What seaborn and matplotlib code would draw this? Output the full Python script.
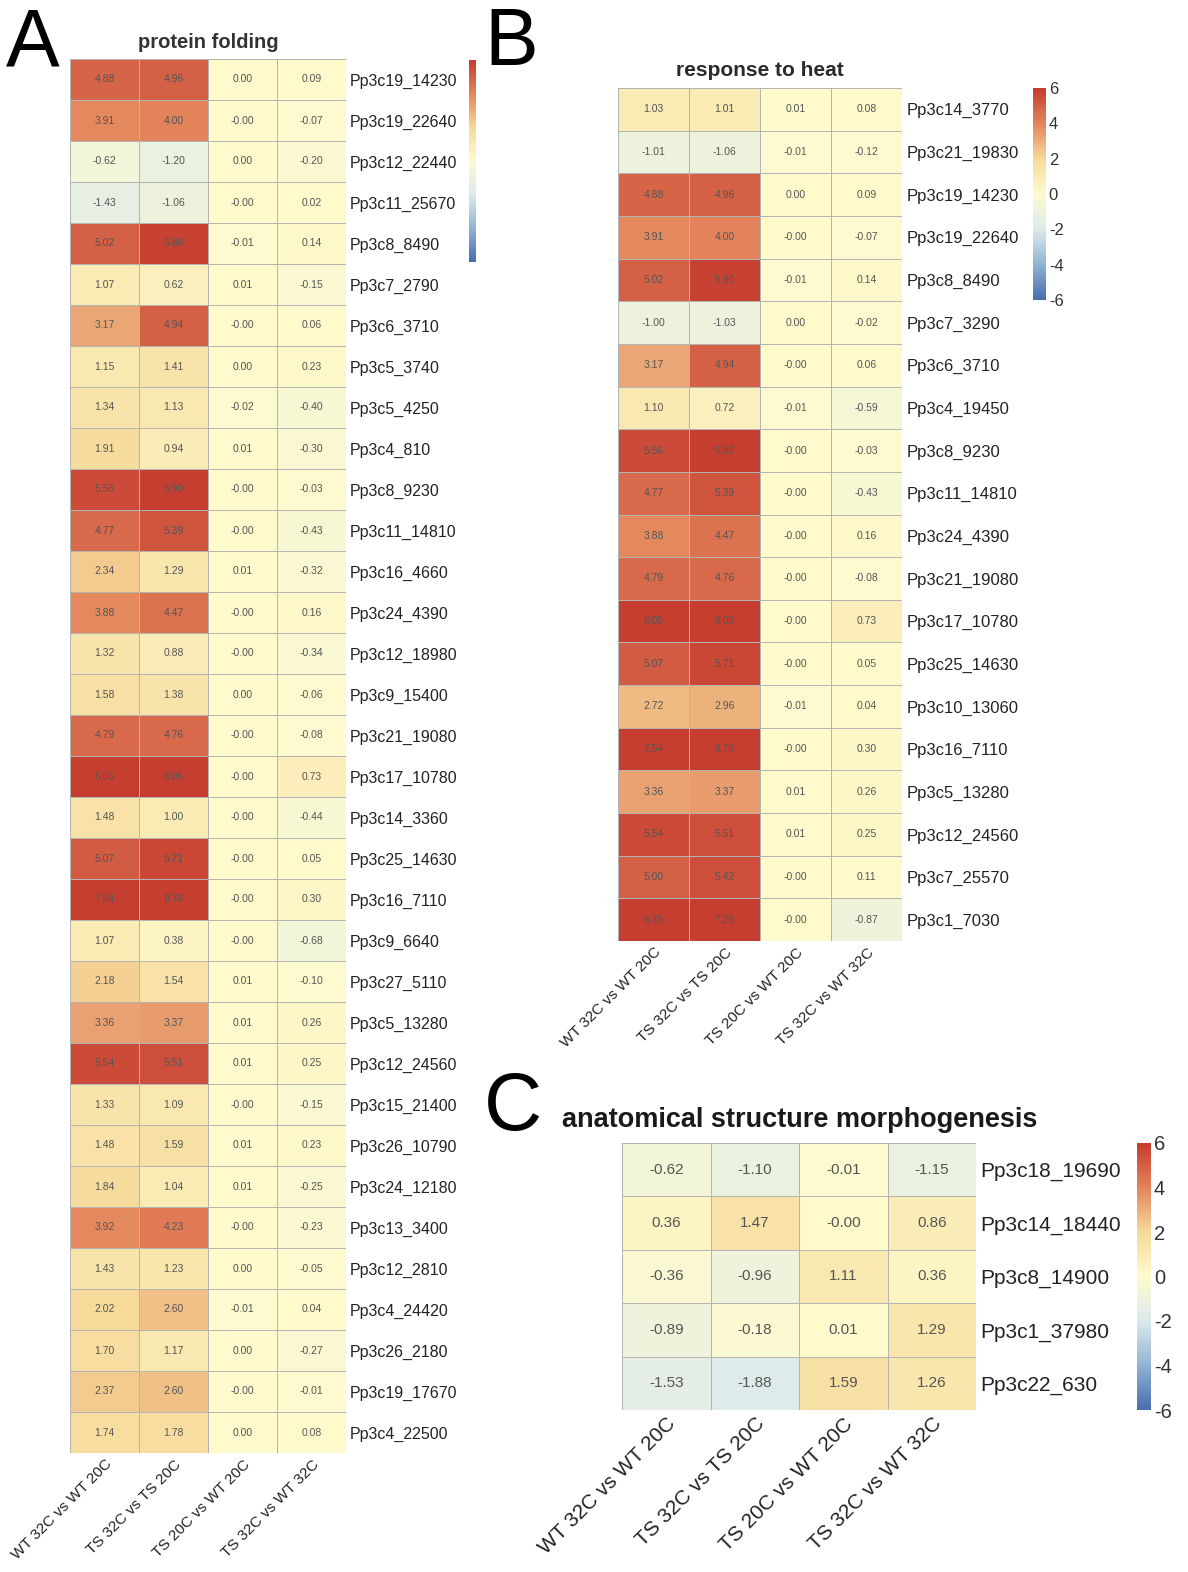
import numpy as np
import pandas as pd
import matplotlib
matplotlib.use("Agg")
import matplotlib.pyplot as plt
import seaborn as sns
from matplotlib.colors import LinearSegmentedColormap

sns.set_theme(style="white")
plt.rcParams['font.family'] = ['Liberation Sans', 'DejaVu Sans']
plt.rcParams['axes.unicode_minus'] = False

contrasts = ["WT 32C vs WT 20C", "TS 32C vs TS 20C", "TS 20C vs WT 20C", "TS 32C vs WT 32C"]

# ---- A: protein folding ----
folding_genes = [
    "Pp3c19_14230", "Pp3c19_22640", "Pp3c12_22440", "Pp3c11_25670", "Pp3c8_8490",
    "Pp3c7_2790", "Pp3c6_3710", "Pp3c5_3740", "Pp3c5_4250", "Pp3c4_810",
    "Pp3c8_9230", "Pp3c11_14810", "Pp3c16_4660", "Pp3c24_4390", "Pp3c12_18980",
    "Pp3c9_15400", "Pp3c21_19080", "Pp3c17_10780", "Pp3c14_3360", "Pp3c25_14630",
    "Pp3c16_7110", "Pp3c9_6640", "Pp3c27_5110", "Pp3c5_13280", "Pp3c12_24560",
    "Pp3c15_21400", "Pp3c26_10790", "Pp3c24_12180", "Pp3c13_3400", "Pp3c12_2810",
    "Pp3c4_24420", "Pp3c26_2180", "Pp3c19_17670", "Pp3c4_22500",
]
folding_wt32_wt20 = [4.88, 3.91, -0.62, -1.43, 5.02, 1.07, 3.17, 1.15, 1.34, 1.91,
                     5.56, 4.77, 2.34, 3.88, 1.32, 1.58, 4.79, 6.05, 1.48, 5.07,
                     7.54, 1.07, 2.18, 3.36, 5.54, 1.33, 1.48, 1.84, 3.92, 1.43,
                     2.02, 1.70, 2.37, 1.74]
folding_ts32_ts20 = [4.96, 4.00, -1.20, -1.06, 5.80, 0.62, 4.94, 1.41, 1.13, 0.94,
                     5.90, 5.39, 1.29, 4.47, 0.88, 1.38, 4.76, 6.06, 1.00, 5.71,
                     8.76, 0.38, 1.54, 3.37, 5.51, 1.09, 1.59, 1.04, 4.23, 1.23,
                     2.60, 1.17, 2.60, 1.78]
folding_ts20_wt20 = [0.00, -0.00, 0.00, -0.00, -0.01, 0.01, -0.00, 0.00, -0.02, 0.01,
                     -0.00, -0.00, 0.01, -0.00, -0.00, 0.00, -0.00, -0.00, -0.00, -0.00,
                     -0.00, -0.00, 0.01, 0.01, 0.01, -0.00, 0.01, 0.01, -0.00, 0.00,
                     -0.01, 0.00, -0.00, 0.00]
folding_ts32_wt32 = [0.09, -0.07, -0.20, 0.02, 0.14, -0.15, 0.06, 0.23, -0.40, -0.30,
                     -0.03, -0.43, -0.32, 0.16, -0.34, -0.06, -0.08, 0.73, -0.44, 0.05,
                     0.30, -0.68, -0.10, 0.26, 0.25, -0.15, 0.23, -0.25, -0.23, -0.05,
                     0.04, -0.27, -0.01, 0.08]

# ---- B: response to heat ----
heat_genes = [
    "Pp3c14_3770", "Pp3c21_19830", "Pp3c19_14230", "Pp3c19_22640", "Pp3c8_8490",
    "Pp3c7_3290", "Pp3c6_3710", "Pp3c4_19450", "Pp3c8_9230", "Pp3c11_14810",
    "Pp3c24_4390", "Pp3c21_19080", "Pp3c17_10780", "Pp3c25_14630", "Pp3c10_13060",
    "Pp3c16_7110", "Pp3c5_13280", "Pp3c12_24560", "Pp3c7_25570", "Pp3c1_7030",
]
heat_wt32_wt20 = [1.03, -1.01, 4.88, 3.91, 5.02, -1.00, 3.17, 1.10, 5.56, 4.77,
                  3.88, 4.79, 6.05, 5.07, 2.72, 7.54, 3.36, 5.54, 5.00, 6.75]
heat_ts32_ts20 = [1.01, -1.06, 4.96, 4.00, 5.80, -1.03, 4.94, 0.72, 5.90, 5.39,
                  4.47, 4.76, 6.06, 5.71, 2.96, 8.76, 3.37, 5.51, 5.42, 7.25]
heat_ts20_wt20 = [0.01, -0.01, 0.00, -0.00, -0.01, 0.00, -0.00, -0.01, -0.00, -0.00,
                  -0.00, -0.00, -0.00, -0.00, -0.01, -0.00, 0.01, 0.01, -0.00, -0.00]
heat_ts32_wt32 = [0.08, -0.12, 0.09, -0.07, 0.14, -0.02, 0.06, -0.59, -0.03, -0.43,
                  0.16, -0.08, 0.73, 0.05, 0.04, 0.30, 0.26, 0.25, 0.11, -0.87]

# ---- C: anatomical structure morphogenesis ----
morph_genes = ["Pp3c18_19690", "Pp3c14_18440", "Pp3c8_14900", "Pp3c1_37980", "Pp3c22_630"]
morph_wt32_wt20 = [-0.62, 0.36, -0.36, -0.89, -1.53]
morph_ts32_ts20 = [-1.10, 1.47, -0.96, -0.18, -1.88]
morph_ts20_wt20 = [-0.01, -0.00, 1.11, 0.01, 1.59]
morph_ts32_wt32 = [-1.15, 0.86, 0.36, 1.29, 1.26]

cbar_ticks = [-6, -4, -2, 0, 2, 4, 6]

# softened blue-yellow-red ramp, anchors at -6, -4, ..., 6
cmap = LinearSegmentedColormap.from_list(
    "soft_rdylbu",
    ["#4A6FAE", "#92B4D3", "#DDEAEC", "#FEFBCE", "#F6DA9A", "#E3855C", "#C63E30"], N=100)

W, H = 1188, 1572
fig = plt.figure(figsize=(W / 100, H / 100), dpi=100)


def box(l, t, r, b):
    return [l / W, 1 - b / H, (r - l) / W, (b - t) / H]


def panel(hm_box, cb_box, genes, cols, annot_size, label_size, tick_size, cb_labels, cb_size):
    ax = fig.add_axes(box(*hm_box))
    cax = fig.add_axes(box(*cb_box))
    df = pd.DataFrame(dict(zip(contrasts, cols)), index=genes)
    sns.heatmap(df, ax=ax, cmap=cmap, vmin=-6, vmax=6, annot=True, fmt=".2f",
                annot_kws={"size": annot_size, "color": "#555555"},
                linewidths=0.7, linecolor="#b4b4b4", cbar_ax=cax)
    ax.yaxis.tick_right()
    ax.set_yticks(np.arange(len(genes)) + 0.5)
    ax.set_yticklabels(genes, rotation=0, fontsize=label_size, color="#222222")
    ax.set_xticks(np.arange(len(contrasts)) + 0.5)
    ax.set_xticklabels(contrasts, rotation=45, ha="right", rotation_mode="anchor",
                       fontsize=tick_size, color="#222222")
    ax.tick_params(axis="both", length=0, pad=3)
    ax.set_xlabel("")
    ax.set_ylabel("")
    cbar = ax.collections[0].colorbar
    cbar.outline.set_visible(False)
    if cb_labels:
        cbar.set_ticks(cbar_ticks)
        cbar.ax.tick_params(length=0, labelsize=cb_size, labelcolor="#333333", pad=2)
    else:
        cbar.set_ticks([])
    return ax


panel((70, 59, 346, 1453), (469, 60, 476, 262), folding_genes,
      [folding_wt32_wt20, folding_ts32_ts20, folding_ts20_wt20, folding_ts32_wt32],
      7.5, 11.5, 11, False, 0)
panel((618, 88, 902, 941), (1033, 88, 1046, 300), heat_genes,
      [heat_wt32_wt20, heat_ts32_ts20, heat_ts20_wt20, heat_ts32_wt32],
      7.5, 12, 11, True, 12)
panel((622, 1143, 976, 1410), (1137, 1143, 1151, 1410), morph_genes,
      [morph_wt32_wt20, morph_ts32_ts20, morph_ts20_wt20, morph_ts32_wt32],
      11, 15, 15, True, 14.5)

# titles
fig.text(208 / W, 1 - 42 / H, "protein folding", ha="center", va="center",
         fontsize=14.5, fontweight="bold", color="#333333")
fig.text(760 / W, 1 - 70 / H, "response to heat", ha="center", va="center",
         fontsize=15, fontweight="bold", color="#2a2a2a")
fig.text(800 / W, 1 - 1120 / H, "anatomical structure morphogenesis", ha="center", va="center",
         fontsize=19.5, fontweight="bold", color="#1a1a1a")

# panel letters
fig.text(6 / W, 1 - 65 / H, "A", ha="left", va="baseline", fontsize=58, color="black")
fig.text(484 / W, 1 - 65 / H, "B", ha="left", va="baseline", fontsize=58, color="black")
fig.text(484 / W, 1 - 1130 / H, "C", ha="left", va="baseline", fontsize=58, color="black")

fig.savefig("out.png", dpi=100)
